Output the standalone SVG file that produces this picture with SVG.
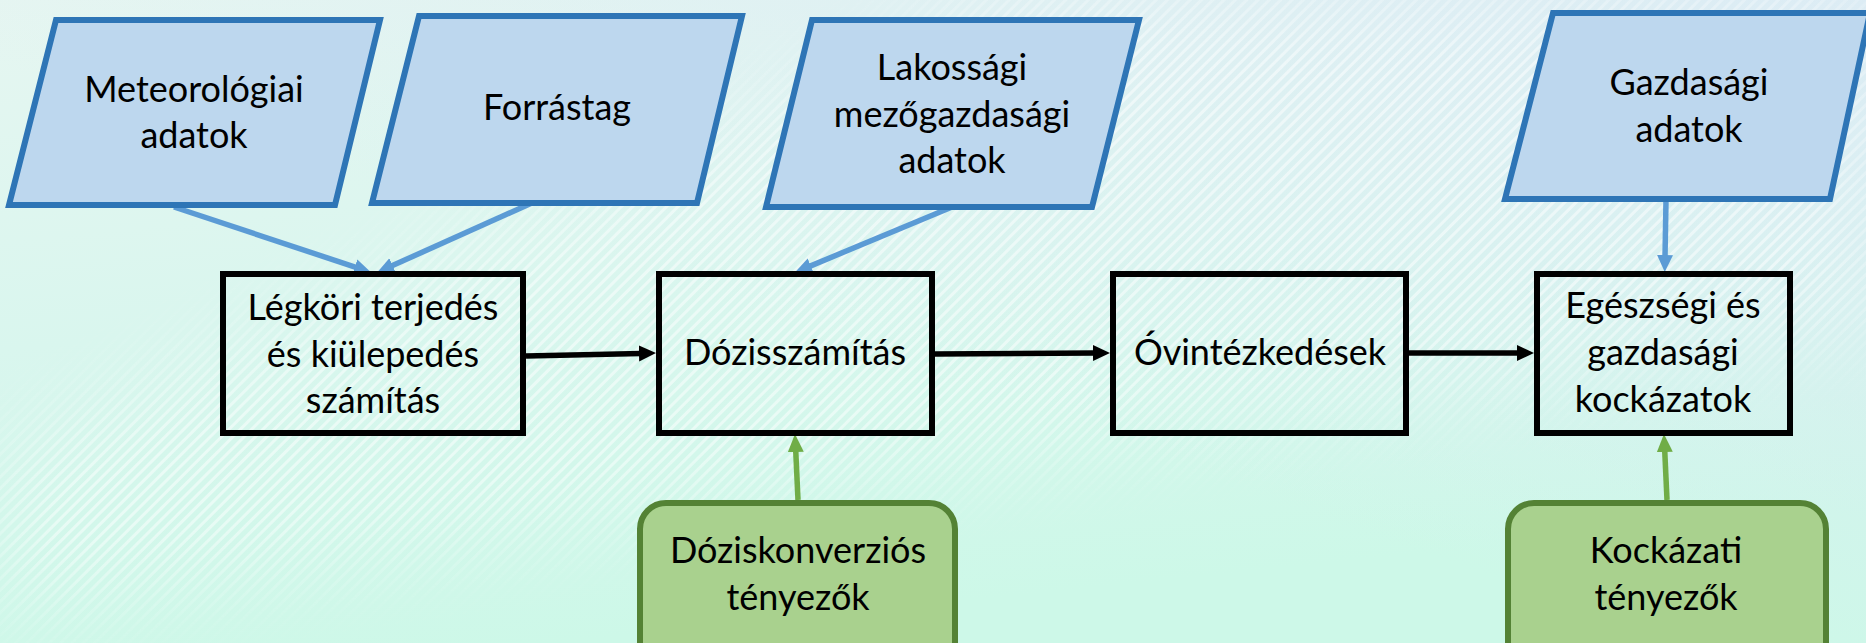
<svg xmlns="http://www.w3.org/2000/svg" width="1866" height="643" viewBox="0 0 1866 643">
<defs>
<linearGradient id="bg" x1="0" y1="0" x2="0.3" y2="1">
<stop offset="0" stop-color="#e6f6f1"/>
<stop offset="0.5" stop-color="#d9f6ee"/>
<stop offset="1" stop-color="#cdf8e8"/>
</linearGradient>
<linearGradient id="bgtr" x1="0" y1="1" x2="1" y2="0">
<stop offset="0.45" stop-color="#dcebf5" stop-opacity="0"/>
<stop offset="1" stop-color="#dcebf5" stop-opacity="0.9"/>
</linearGradient>
<pattern id="stripes" width="8" height="8" patternUnits="userSpaceOnUse" patternTransform="rotate(45)">
<rect x="0" y="0" width="3" height="8" fill="#ffffff"/>
</pattern>
<filter id="blur" x="-20%" y="-20%" width="140%" height="140%">
<feGaussianBlur stdDeviation="40"/>
</filter>
<mask id="stripeMask" maskUnits="userSpaceOnUse" x="0" y="0" width="1866" height="643">
<polygon points="0,450 1000,0 1866,0 1866,330 0,610" fill="#ffffff" filter="url(#blur)"/>
</mask>
<marker id="ahBlack" markerUnits="userSpaceOnUse" markerWidth="20" markerHeight="18" refX="2" refY="8" orient="auto">
<path d="M0,0 L17,8 L0,16 z" fill="#000000"/>
</marker>
<marker id="ahBlue" markerUnits="userSpaceOnUse" markerWidth="20" markerHeight="18" refX="2" refY="8" orient="auto">
<path d="M0,0 L17,8 L0,16 z" fill="#5b9bd5"/>
</marker>
<marker id="ahGreen" markerUnits="userSpaceOnUse" markerWidth="20" markerHeight="18" refX="2" refY="8" orient="auto">
<path d="M0,0 L18,8 L0,16 z" fill="#70ad47"/>
</marker>
<style>
.para{fill:#bdd7ee;stroke:#2e75b6;stroke-width:6;stroke-linejoin:miter}
.box{fill:none;stroke:#000000;stroke-width:6}
.gbox{fill:#a9d18e;stroke:#548235;stroke-width:6}
.lbl{font-family:Lato,"Liberation Sans",sans-serif;font-size:36px;fill:#000000;text-anchor:middle}
.cb{stroke:#5b9bd5;stroke-width:5.5;fill:none;marker-end:url(#ahBlue)}
.ck{stroke:#000000;stroke-width:5.5;fill:none;marker-end:url(#ahBlack)}
.cg{stroke:#70ad47;stroke-width:5.5;fill:none;marker-end:url(#ahGreen)}
</style>
</defs>
<rect x="0" y="0" width="1866" height="643" fill="url(#bg)"/>
<rect x="0" y="0" width="1866" height="643" fill="url(#bgtr)"/>
<rect x="0" y="0" width="1866" height="643" fill="url(#stripes)" opacity="0.5" mask="url(#stripeMask)"/>

<g id="connectors">
<line class="cb" x1="174" y1="207" x2="356.7" y2="267.6"/>
<line class="cb" x1="534" y1="202" x2="390.8" y2="266.3"/>
<line class="cb" x1="952" y1="207" x2="808.9" y2="266.6"/>
<line class="cb" x1="1666" y1="200" x2="1665" y2="257"/>
<line class="ck" x1="526" y1="356" x2="641" y2="353.4"/>
<line class="ck" x1="935" y1="354" x2="1095" y2="353"/>
<line class="ck" x1="1409" y1="353" x2="1519" y2="353"/>
<line class="cg" x1="798" y1="500" x2="795.7" y2="450"/>
<line class="cg" x1="1667" y1="500" x2="1664.7" y2="450"/>
</g>

<g id="meteo">
<polygon class="para" points="56,20 380,20 335,205 9,205"/>
<text class="lbl" x="194" y="102">Meteorológiai</text>
<text class="lbl" x="194" y="148">adatok</text>
</g>
<g id="forrastag">
<polygon class="para" points="419,16 742,16 697,203 372,203"/>
<text class="lbl" x="557" y="120">Forrástag</text>
</g>
<g id="lakossagi">
<polygon class="para" points="812,20 1139,20 1092,207 766,207"/>
<text class="lbl" x="952" y="80">Lakossági</text>
<text class="lbl" x="952" y="127">mezőgazdasági</text>
<text class="lbl" x="952" y="173">adatok</text>
</g>
<g id="gazdasagi">
<polygon class="para" points="1553,13 1870,13 1830,199 1505,199"/>
<text class="lbl" x="1689" y="95">Gazdasági</text>
<text class="lbl" x="1689" y="142">adatok</text>
</g>

<g id="legkori">
<rect class="box" x="223" y="274" width="300" height="159"/>
<text class="lbl" x="373" y="320">Légköri terjedés</text>
<text class="lbl" x="373" y="367">és kiülepedés</text>
<text class="lbl" x="373" y="413">számítás</text>
</g>
<g id="dozis">
<rect class="box" x="659" y="274" width="273" height="159"/>
<text class="lbl" x="795" y="365">Dózisszámítás</text>
</g>
<g id="ovintezkedesek">
<rect class="box" x="1113" y="274" width="293" height="159"/>
<text class="lbl" x="1260" y="365">Óvintézkedések</text>
</g>
<g id="egeszsegi">
<rect class="box" x="1537" y="274" width="253" height="159"/>
<text class="lbl" x="1663" y="318">Egészségi és</text>
<text class="lbl" x="1663" y="365">gazdasági</text>
<text class="lbl" x="1663" y="412">kockázatok</text>
</g>

<g id="doziskonverzios">
<rect class="gbox" x="640" y="503" width="315" height="180" rx="26" ry="26"/>
<text class="lbl" x="798" y="563">Dóziskonverziós</text>
<text class="lbl" x="798" y="610">tényezők</text>
</g>
<g id="kockazati">
<rect class="gbox" x="1508" y="503" width="318" height="180" rx="26" ry="26"/>
<text class="lbl" x="1666" y="563">Kockázati</text>
<text class="lbl" x="1666" y="610">tényezők</text>
</g>
</svg>
